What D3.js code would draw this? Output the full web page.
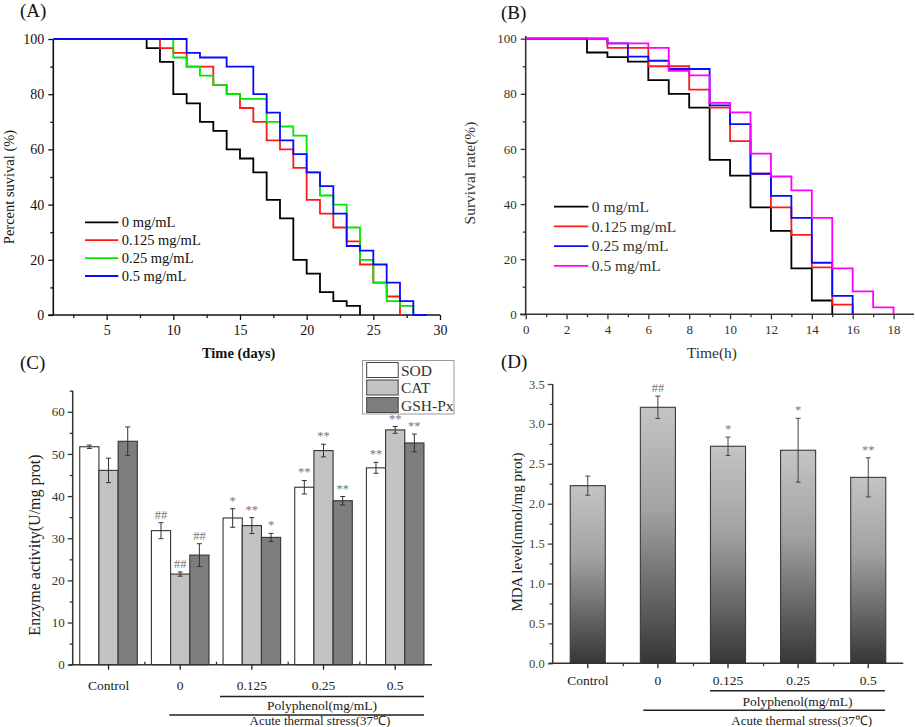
<!DOCTYPE html>
<html><head><meta charset="utf-8">
<script src="https://cdn.jsdelivr.net/npm/d3@7"></script>
<style>
body{margin:0;background:#fff}
svg{display:block}
text{font-family:"Liberation Serif","Times New Roman",serif}
</style>
</head><body>
<svg id="c" width="915" height="727"></svg>
<script>
// ---------------- DATA ----------------
const doseLabels = ["0 mg/mL", "0.125 mg/mL", "0.25 mg/mL", "0.5 mg/mL"];

// Panel A: lifespan (days) survival curves
const aDays0   = [1, 8, 9, 10, 11, 12, 13, 14, 15, 16, 17, 18, 19, 20, 21, 22, 23, 24];
const aSurv0   = [100, 96.7, 91.7, 80, 76.7, 70, 66.7, 60, 56.7, 51.7, 41.7, 35, 20, 15, 8.3, 5, 3.3, 0];
const aDays125 = [1, 9, 10, 11, 13, 14, 15, 16, 17, 18, 19, 20, 21, 22, 23, 24, 25, 26, 27];
const aSurv125 = [100, 96.7, 95, 90, 83.3, 80, 75, 70, 63.3, 60, 53.3, 41.7, 36.7, 31.7, 26.7, 18.3, 11.7, 6.7, 0];
const aDays25  = [1, 10, 11, 12, 13, 14, 15, 17, 18, 19, 20, 21, 22, 23, 24, 25, 26, 27, 28];
const aSurv25  = [100, 93.3, 90, 86.7, 83.3, 80, 78.3, 70, 68.3, 65, 51.7, 43.3, 40, 31.7, 20, 11.7, 5, 3.3, 0];
const aDays5   = [1, 11, 12, 14, 16, 17, 18, 19, 20, 21, 22, 23, 24, 25, 26, 27, 28, 29];
const aSurv5   = [100, 95, 93.3, 90, 80, 73.3, 63.3, 58.3, 51.7, 46.7, 36.7, 25, 23.3, 18.3, 11.7, 5, 0, 0];

// Panel B: thermal stress (h) survival curves
const bHours0   = [0, 3, 4, 5, 6, 7, 8, 9, 10, 11, 12, 13, 14, 15];
const bSurv0    = [100, 95, 93.3, 91.7, 85, 80, 75, 56, 50.3, 38.8, 30.3, 16.7, 5, 0];
const bHours125 = [0, 4, 6, 8, 9, 10, 11, 12, 13, 14, 15, 16];
const bSurv125  = [100, 96.7, 90, 81.5, 75, 62.8, 51, 38.8, 28.8, 17, 3.5, 0];
const bHours25  = [0, 4, 5, 6, 7, 9, 10, 11, 12, 13, 14, 15, 16];
const bSurv25   = [100, 98.3, 93.5, 92, 89, 75.8, 69, 51, 43, 35, 18.7, 6.7, 0];
const bHours5   = [0, 4, 6, 7, 8, 9, 10, 11, 12, 13, 14, 15, 16, 17, 18];
const bSurv5    = [100, 98.3, 96.7, 88.3, 86.7, 76.7, 73.3, 58.3, 50, 45, 35, 16.7, 8.3, 2.5, 0];

// Panel C: enzyme activities
const groups    = ["Control", "0", "0.125", "0.25", "0.5"];
const enzymes   = ["SOD", "CAT", "GSH-Px"];
const sodMean   = [51.7, 31.8, 34.8, 42.1, 46.7];
const sodErr    = [0.4, 1.9, 2.2, 1.6, 1.3];
const catMean   = [46.1, 21.5, 33.0, 50.8, 55.7];
const catErr    = [2.9, 0.5, 1.9, 1.5, 0.8];
const gshMean   = [53.0, 26.0, 30.2, 38.9, 52.6];
const gshErr    = [3.4, 2.7, 0.95, 1.0, 2.1];
const sodMark   = ["", "##", "*", "**", "**"];
const catMark   = ["", "##", "**", "**", "**"];
const gshMark   = ["", "##", "*", "**", "**"];

// Panel D: MDA level
const mdaMean   = [2.226, 3.208, 2.72, 2.67, 2.33];
const mdaErr    = [0.12, 0.14, 0.115, 0.40, 0.245];
const mdaMark   = ["", "##", "*", "*", "**"];

// ---------------- DRAW ----------------
const svg = d3.select("#c");
const defs = svg.append("defs");

function stepLine(x, y) {
  return d3.line().x(d => x(d[0])).y(d => y(d[1])).curve(d3.curveStepAfter);
}
function zipPts(t, v) { return t.map((d, i) => [d, v[i]]); }

function styleAxis(g, color, size) {
  g.select(".domain").remove();
  g.selectAll(".tick line").attr("stroke", color).attr("stroke-width", 1.3);
  g.selectAll(".tick text").attr("fill", color).attr("font-size", size)
    .attr("font-family", "Liberation Serif, Times New Roman, serif");
}

function survivalPanel(cfg) {
  const g = svg.append("g");
  const x = d3.scaleLinear().domain(cfg.xDomain).range(cfg.xRange);
  const y = d3.scaleLinear().domain([0, 100]).range(cfg.yRange);
  const col = cfg.textColor;

  const yMaj = g.append("g").attr("transform", `translate(${x(cfg.xDomain[0])},0)`)
    .call(d3.axisLeft(y).tickValues([0, 20, 40, 60, 80, 100]).tickSize(5).tickPadding(4));
  styleAxis(yMaj, col, cfg.tickFont);
  const yMin = g.append("g").attr("transform", `translate(${x(cfg.xDomain[0])},0)`)
    .call(d3.axisLeft(y).tickValues([10, 30, 50, 70, 90]).tickSize(3).tickFormat(""));
  styleAxis(yMin, col, cfg.tickFont);
  const xMaj = g.append("g").attr("transform", `translate(0,${y(0)})`)
    .call(d3.axisBottom(x).tickValues(cfg.xMajor).tickSize(5).tickPadding(5));
  styleAxis(xMaj, col, cfg.tickFont);
  const xMin = g.append("g").attr("transform", `translate(0,${y(0)})`)
    .call(d3.axisBottom(x).tickValues(cfg.xMinor).tickSize(3).tickFormat(""));
  styleAxis(xMin, col, cfg.tickFont);
  g.append("line").attr("x1", cfg.xLineStart).attr("x2", cfg.xRange[1])
    .attr("y1", y(0)).attr("y2", y(0)).attr("stroke", col).attr("stroke-width", 1.6);
  g.append("line").attr("x1", x(cfg.xDomain[0])).attr("x2", x(cfg.xDomain[0]))
    .attr("y1", y(0)).attr("y2", cfg.yLineTop).attr("stroke", col).attr("stroke-width", 1.6);

  const line = stepLine(x, y);
  cfg.series.forEach((s) => {
    g.append("path").datum(zipPts(s.t, s.v)).attr("d", line)
      .attr("fill", "none").attr("stroke", s.color).attr("stroke-width", 1.8);
  });

  cfg.series.forEach((s, i) => {
    const ly = cfg.legendY + i * cfg.legendStep;
    g.append("line").attr("x1", cfg.legendX0).attr("x2", cfg.legendX1)
      .attr("y1", ly).attr("y2", ly).attr("stroke", s.color).attr("stroke-width", 1.8);
    g.append("text").attr("x", cfg.legendX1 + 3.5).attr("y", ly).attr("dy", "0.34em")
      .attr("font-size", cfg.legendFont).attr("fill", col).text(doseLabels[i]);
  });

  g.append("text").attr("x", d3.mean(cfg.xRange) - 8).attr("y", cfg.xTitleY)
    .attr("text-anchor", "middle").attr("font-size", cfg.titleFont).attr("fill", col)
    .attr("font-weight", cfg.titleWeight || "normal").text(cfg.xTitle);
  g.append("text").attr("transform", `translate(${cfg.yTitleX},${cfg.yTitleCY}) rotate(-90)`)
    .attr("text-anchor", "middle").attr("font-size", cfg.titleFont).attr("fill", col)
    .text(cfg.yTitle);
  g.append("text").attr("x", cfg.labelX).attr("y", cfg.labelY).attr("font-size", 19)
    .attr("fill", "#111").text(cfg.label);
}

// Panel A
survivalPanel({
  xDomain: [1, 30], xRange: [53.3, 440], yRange: [315, 39],
  xMajor: [5, 10, 15, 20, 25, 30], xMinor: [2.5, 7.5, 12.5, 17.5, 22.5, 27.5],
  xLineStart: 48.3, yLineTop: 39,
  textColor: "#111", tickFont: 14,
  series: [
    { t: aDays0, v: aSurv0, color: "#000000" },
    { t: aDays125, v: aSurv125, color: "#ff1a1a" },
    { t: aDays25, v: aSurv25, color: "#00e600" },
    { t: aDays5, v: aSurv5, color: "#0a0aff" }
  ],
  legendX0: 85, legendX1: 118.3, legendY: 222.3, legendStep: 17.9, legendFont: 14.5,
  xTitle: "Time (days)", xTitleY: 358, titleFont: 14.5, titleWeight: "bold",
  yTitle: "Percent suvival (%)", yTitleX: 13.5, yTitleCY: 187,
  label: "(A)", labelX: 20, labelY: 17
});

// Panel B
survivalPanel({
  xDomain: [0, 19], xRange: [525.7, 914], yRange: [314.3, 38.7],
  xMajor: d3.range(0, 19, 2), xMinor: d3.range(1, 19, 2),
  xLineStart: 520, yLineTop: 36,
  textColor: "#333", tickFont: 13,
  series: [
    { t: bHours0, v: bSurv0, color: "#000000" },
    { t: bHours125, v: bSurv125, color: "#ff1a1a" },
    { t: bHours25, v: bSurv25, color: "#0a0aff" },
    { t: bHours5, v: bSurv5, color: "#ff00ff" }
  ],
  legendX0: 554, legendX1: 588.3, legendY: 206.7, legendStep: 19.7, legendFont: 15.5,
  xTitle: "Time(h)", xTitleY: 358, titleFont: 15.5,
  yTitle: "Survival rate(%)", yTitleX: 475, yTitleCY: 173,
  label: "(B)", labelX: 501, labelY: 19
});

function categoryCaptions(g, cfg) {
  g.append("line").attr("x1", cfg.l1x0).attr("x2", cfg.l1x1).attr("y1", cfg.l1y).attr("y2", cfg.l1y)
    .attr("stroke", "#222").attr("stroke-width", 1.4);
  g.append("text").attr("x", (cfg.l1x0 + cfg.l1x1) / 2).attr("y", cfg.t1y)
    .attr("text-anchor", "middle").attr("font-size", 13.5).attr("fill", "#222")
    .text("Polyphenol(mg/mL)");
  g.append("line").attr("x1", cfg.l2x0).attr("x2", cfg.l1x1).attr("y1", cfg.l2y).attr("y2", cfg.l2y)
    .attr("stroke", "#222").attr("stroke-width", 1.4);
  g.append("text").attr("x", cfg.t2x).attr("y", cfg.t2y)
    .attr("text-anchor", "middle").attr("font-size", 13).attr("fill", "#222")
    .text("Acute thermal stress(37℃)");
}

// Panel C
(function () {
  const g = svg.append("g");
  const x = d3.scaleBand().domain(groups).range([72.7, 431]).padding(0);
  const xs = d3.scaleBand().domain(enzymes).range([0, x.bandwidth()]).paddingInner(0).paddingOuter(0.367);
  const y = d3.scaleLinear().domain([0, 65]).range([664.7, 390.7]);
  const fills = ["#ffffff", "#c3c3c3", "#7d7d7d"];
  const means = [sodMean, catMean, gshMean];
  const errs = [sodErr, catErr, gshErr];
  const marks = [sodMark, catMark, gshMark];

  const yMaj = g.append("g").attr("transform", "translate(72.7,0)")
    .call(d3.axisLeft(y).tickValues(d3.range(0, 61, 10)).tickSize(5).tickPadding(3));
  styleAxis(yMaj, "#333", 13);
  const yMin = g.append("g").attr("transform", "translate(72.7,0)")
    .call(d3.axisLeft(y).tickValues(d3.range(5, 66, 10)).tickSize(3).tickFormat(""));
  styleAxis(yMin, "#333", 13);
  const xAx = g.append("g").attr("transform", `translate(0,${y(0)})`)
    .call(d3.axisBottom(x).tickSize(5).tickPadding(11));
  styleAxis(xAx, "#222", 13.5);
  const xMin = g.append("g").attr("transform", `translate(0,${y(0)})`)
    .call(d3.axisTop(d3.scaleLinear().domain([0, 5]).range([72.7, 431]))
      .tickValues([1, 2, 3, 4]).tickSize(3).tickFormat(""));
  styleAxis(xMin, "#333", 13);

  enzymes.forEach((e, k) => {
    groups.forEach((c, i) => {
      const bx = x(c) + xs(e);
      g.append("rect").attr("x", bx).attr("y", y(means[k][i])).attr("width", xs.bandwidth())
        .attr("height", y(0) - y(means[k][i])).attr("fill", fills[k])
        .attr("stroke", "#333").attr("stroke-width", 1.1);
      const cx = bx + xs.bandwidth() / 2;
      const top = y(means[k][i] + errs[k][i]), bot = y(means[k][i] - errs[k][i]);
      g.append("line").attr("x1", cx).attr("x2", cx).attr("y1", top).attr("y2", bot)
        .attr("stroke", "#333").attr("stroke-width", 1);
      [top, bot].forEach(yy => g.append("line").attr("x1", cx - 2.5).attr("x2", cx + 2.5)
        .attr("y1", yy).attr("y2", yy).attr("stroke", "#333").attr("stroke-width", 1));
      if (marks[k][i]) g.append("text").attr("x", cx).attr("y", top - 4)
        .attr("text-anchor", "middle").attr("font-size", 12.5).attr("fill", "#777").text(marks[k][i]);
    });
  });

  g.append("line").attr("x1", 69).attr("x2", 432).attr("y1", y(0)).attr("y2", y(0))
    .attr("stroke", "#333").attr("stroke-width", 1.5);
  g.append("line").attr("x1", 72.7).attr("x2", 72.7).attr("y1", y(0)).attr("y2", y(65))
    .attr("stroke", "#333").attr("stroke-width", 1.5);

  const lg = g.append("g");
  lg.append("rect").attr("x", 362.5).attr("y", 360.5).attr("width", 91.5).attr("height", 53.5)
    .attr("fill", "#fff").attr("stroke", "#999").attr("stroke-width", 1);
  enzymes.forEach((e, k) => {
    const ry = 362.5 + k * 17.5;
    lg.append("rect").attr("x", 366.7).attr("y", ry).attr("width", 31.5).attr("height", 15)
      .attr("fill", fills[k]).attr("stroke", "#444").attr("stroke-width", 1);
    lg.append("text").attr("x", 401).attr("y", ry + 7.5).attr("dy", "0.36em")
      .attr("font-size", 15.5).attr("fill", "#333").text(e);
  });

  g.append("text").attr("transform", "translate(40,545) rotate(-90)").attr("text-anchor", "middle")
    .attr("font-size", 16).attr("fill", "#222").text("Enzyme activity(U/mg prot)");
  g.append("text").attr("x", 20).attr("y", 369).attr("font-size", 19).attr("fill", "#111").text("(C)");
  categoryCaptions(g, {
    l1x0: 220, l1x1: 424, l1y: 696.5, t1y: 710,
    l2x0: 169.3, l2y: 715, t2x: 320, t2y: 724.5
  });
})();

// Panel D
(function () {
  const g = svg.append("g");
  const x = d3.scaleBand().domain(groups).range([552.7, 903.3]).paddingInner(0.5).paddingOuter(0.25);
  const y = d3.scaleLinear().domain([0, 3.5]).range([663.3, 384]);

  const grad = defs.append("linearGradient").attr("id", "mdaGrad")
    .attr("x1", 0).attr("y1", 0).attr("x2", 0).attr("y2", 1);
  grad.append("stop").attr("offset", "0%").attr("stop-color", "#c4c4c4");
  grad.append("stop").attr("offset", "40%").attr("stop-color", "#a2a2a2");
  grad.append("stop").attr("offset", "100%").attr("stop-color", "#363636");

  const yMaj = g.append("g").attr("transform", "translate(552.7,0)")
    .call(d3.axisLeft(y).tickValues(d3.range(0, 3.51, 0.5)).tickSize(5).tickPadding(3).tickFormat(d3.format(".1f")));
  styleAxis(yMaj, "#444", 12.5);
  const yMin = g.append("g").attr("transform", "translate(552.7,0)")
    .call(d3.axisLeft(y).tickValues(d3.range(0.25, 3.5, 0.5)).tickSize(3).tickFormat(""));
  styleAxis(yMin, "#444", 12);
  const xAx = g.append("g").attr("transform", `translate(0,${y(0)})`)
    .call(d3.axisBottom(x).tickSize(5).tickPadding(7));
  styleAxis(xAx, "#222", 13.5);
  const xMin = g.append("g").attr("transform", `translate(0,${y(0)})`)
    .call(d3.axisBottom(d3.scaleLinear().domain([0, 5]).range([552.7, 903.3]))
      .tickValues([1, 2, 3, 4]).tickSize(3).tickFormat(""));
  styleAxis(xMin, "#444", 12);

  groups.forEach((c, i) => {
    g.append("rect").attr("x", x(c)).attr("y", y(mdaMean[i])).attr("width", x.bandwidth())
      .attr("height", y(0) - y(mdaMean[i])).attr("fill", "url(#mdaGrad)")
      .attr("stroke", "#3a3a3a").attr("stroke-width", 1.1);
    const cx = x(c) + x.bandwidth() / 2;
    const top = y(mdaMean[i] + mdaErr[i]), bot = y(mdaMean[i] - mdaErr[i]);
    g.append("line").attr("x1", cx).attr("x2", cx).attr("y1", top).attr("y2", bot)
      .attr("stroke", "#444").attr("stroke-width", 1);
    [top, bot].forEach(yy => g.append("line").attr("x1", cx - 2.5).attr("x2", cx + 2.5)
      .attr("y1", yy).attr("y2", yy).attr("stroke", "#444").attr("stroke-width", 1));
    if (mdaMark[i]) g.append("text").attr("x", cx).attr("y", top - 4)
      .attr("text-anchor", "middle").attr("font-size", 12.5).attr("fill", "#777").text(mdaMark[i]);
  });

  g.append("line").attr("x1", 549).attr("x2", 903.3).attr("y1", y(0)).attr("y2", y(0))
    .attr("stroke", "#333").attr("stroke-width", 1.5);
  g.append("line").attr("x1", 552.7).attr("x2", 552.7).attr("y1", y(0)).attr("y2", y(3.5))
    .attr("stroke", "#333").attr("stroke-width", 1.5);

  g.append("text").attr("transform", "translate(522,532) rotate(-90)").attr("text-anchor", "middle")
    .attr("font-size", 15).attr("fill", "#222").text("MDA level(nmol/mg prot)");
  g.append("text").attr("x", 501).attr("y", 368).attr("font-size", 19).attr("fill", "#111").text("(D)");
  categoryCaptions(g, {
    l1x0: 710, l1x1: 885, l1y: 690.7, t1y: 706,
    l2x0: 643.3, l2y: 710.3, t2x: 801.7, t2y: 724.5
  });
})();
</script>
</body></html>
